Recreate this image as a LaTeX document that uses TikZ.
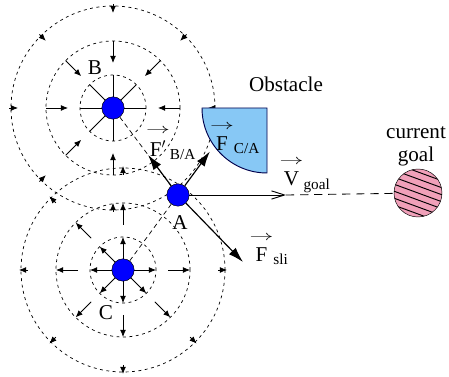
\documentclass[tikz,border=0pt]{standalone}
\usepackage{tikz}
\usetikzlibrary{arrows.meta,calc,backgrounds}
\usepackage{amsmath}
\usepackage{xcolor}
\usepackage{fontspec}
\setmainfont{Liberation Serif}
\definecolor{obstblue}{RGB}{135,200,245}
\definecolor{goalpink}{RGB}{240,160,185}
\newcommand{\vlab}[2]{$\overset{\raisebox{3pt}{\fontsize{12}{12}\selectfont\scalebox{1.7}[1]{$\rightarrow$}}}{\text{#1}}_{\text{\fontsize{13}{13}\selectfont #2}}$}

\begin{document}
\begin{tikzpicture}[x=0.03cm, y=0.03cm, >=Latex, font=\fontsize{18}{20}\selectfont,
  agent/.style={circle, draw, fill=blue, minimum size=0.67cm, inner sep=0pt},
  goalball/.style={circle, draw, fill=goalpink, minimum size=1.44cm, inner sep=0pt,
    path picture={\foreach \k in {-3,...,3} \draw[line width=0.8pt] ($(path picture bounding box.center)+(-30,11+7*\k)$) -- ++(60,-22);}},
  ring/.style={line width=0.6pt, dash pattern=on 2.5pt off 3pt},
  field/.style={line width=0.7pt, -{Latex[length=6pt,width=5pt]}},
  force/.style={line width=1pt, -{Latex[length=13pt,width=8pt]}},
  link/.style={line width=0.6pt, dash pattern=on 4pt off 3pt}]
  \useasboundingbox (0,0) rectangle (449,377);
  \node[agent] (B) at (113,269) {}; \node[agent] (C) at (123,107) {}; \node[agent] (A) at (178,182) {};
  \node[goalball] (G) at (418,184) {};
  \begin{scope}[on background layer]
    \foreach \r in {33,67,102} { \draw[ring] (B) circle[radius=\r]; \draw[ring] (C) circle[radius=\r]; }
  \end{scope}
  \begin{scope}[shift={(B)}]
    \foreach \a in {0,45,90,135,180,225,270} { \draw[line width=0.8pt] (\a:11) -- (\a:33);
      \draw[field] (\a:67) -- (\a:45); \draw[field] (\a:104) -- (\a:95); }
  \end{scope}
  \begin{scope}[shift={(C)}]
    \foreach \a in {0,90,135,180,225,270,315} { \draw[field] (\a:11) -- (\a:33);
      \draw[field] (\a:45) -- (\a:67); \draw[field] (\a:95) -- (\a:104); }
  \end{scope}
  \draw[link] (B) -- (A); \draw[link] (C) -- (A);
  \draw[fill=obstblue, draw=black!70!blue, line width=0.8pt] (202,269) -- (267,269) -- (267,204) arc[start angle=270, end angle=180, radius=65] -- cycle;
  \coordinate (vtip) at (286,182); \coordinate (sli) at (243,115);
  \draw[force] (A) -- ($(A)!0.46!(B)$); \draw[force] (A) -- ($(A)!-0.58!(C)$); \draw[force] (A) -- (sli);
  \draw[line width=0.8pt, -{Straight Barb[length=11pt,width=7pt]}] (A) -- (vtip);
  \draw[line width=0.7pt, dash pattern=on 7pt off 5pt] (vtip) -- (G);
  \node (lB) at (95,309) {B}; \node (lC) at (106,64) {C}; \node (lA) at (180,154) {A};
  \node[anchor=base] (lobst) at (286,285) {Obstacle};
  \node[align=center, font=\fontsize{18}{19.5}\selectfont] (lgoal) at (416,231) {current\\goal};
  \node (lfba) at (171,234) {\vlab{F$'$}{B/A}};
  \node (lfca) at (235,239) {\vlab{F}{C/A}};
  \node (lv) at (305,202) {\vlab{V}{goal}};
  \node (lsli) at (269,128) {\vlab{F}{sli}};
\end{tikzpicture}
\end{document}
